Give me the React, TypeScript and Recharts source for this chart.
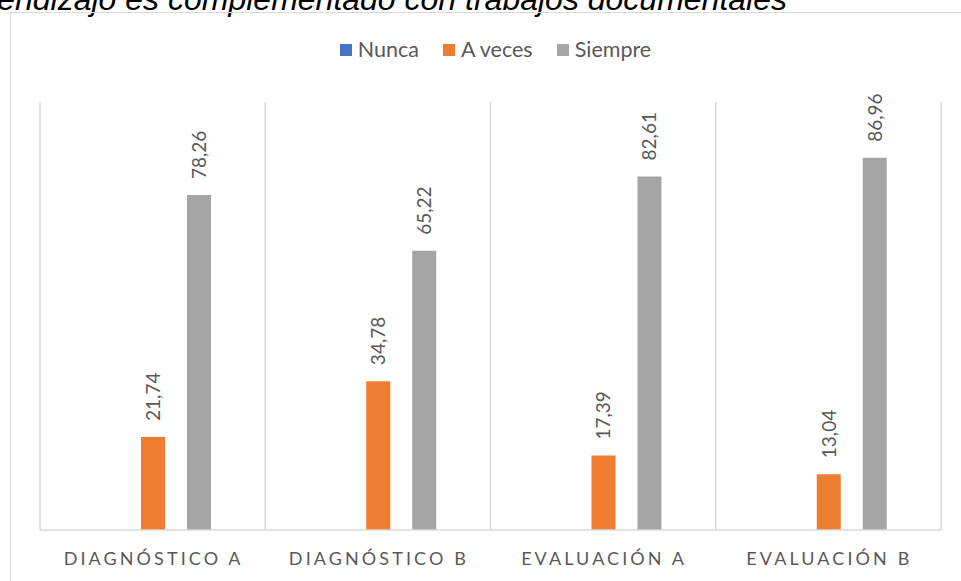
import { BarChart, Bar, XAxis, YAxis, CartesianGrid, Legend, LabelList } from 'recharts'

const categories = ['DIAGNÓSTICO A', 'DIAGNÓSTICO B', 'EVALUACIÓN A', 'EVALUACIÓN B']
const nunca = [0, 0, 0, 0]
const aVeces = [21.74, 34.78, 17.39, 13.04]
const siempre = [78.26, 65.22, 82.61, 86.96]

const seriesInfo = [
  { key: 'nunca', name: 'Nunca', color: '#4472C4' },
  { key: 'aVeces', name: 'A veces', color: '#ED7D31' },
  { key: 'siempre', name: 'Siempre', color: '#A5A5A5' },
]

const data = categories.map((c, i) => ({
  name: c,
  nunca: nunca[i],
  aVeces: aVeces[i],
  siempre: siempre[i],
}))

const FONT = 'Lato, "Open Sans", sans-serif'
const TEXT = '#595959'
const LINE = '#D9D9D9'

const fmt = (v: number) => v.toFixed(2).replace('.', ',')

function ValueLabel(props: any) {
  const { x, y, width, value } = props
  const cx = x + width / 2
  const ty = y - 16
  return (
    <text
      x={cx}
      y={ty}
      transform={`rotate(-90 ${cx} ${ty})`}
      dy="0.36em"
      textAnchor="start"
      fill={TEXT}
      fontSize={19}
      fontFamily={FONT}
    >
      {fmt(value)}
    </text>
  )
}

function CategoryTick(props: any) {
  const { x, y, payload } = props
  return (
    <text x={x + 1} y={y + 27} textAnchor="middle" fill={TEXT} fontSize={18} fontFamily={FONT} letterSpacing={3.1}>
      {payload.value}
    </text>
  )
}

function LegendContent() {
  return (
    <div style={{ display: 'flex', justifyContent: 'center', gap: 24, fontFamily: FONT, fontSize: 21.5, color: TEXT, paddingLeft: 30, lineHeight: '25px' }}>
      {seriesInfo.map((s) => (
        <div key={s.key} style={{ display: 'flex', alignItems: 'center', gap: 6 }}>
          <span style={{ width: 12, height: 12, background: s.color, display: 'inline-block' }} />
          <span>{s.name}</span>
        </div>
      ))}
    </div>
  )
}

export default function App() {
  return (
    <div style={{ position: 'fixed', left: 0, top: 0, width: 961, height: 581, background: '#fff', overflow: 'hidden' }}>
      <svg width={961} height={20} style={{ position: 'absolute', left: 0, top: 0 }}>
        <text
          x={787}
          y={10}
          textAnchor="end"
          fontSize={32}
          fontStyle="italic"
          fontFamily='"Liberation Sans", Arial, sans-serif'
          fill="#000"
        >
          endizajo es complementado con trabajos documentales
        </text>
      </svg>
      <div
        style={{
          position: 'absolute',
          left: 10,
          top: 12,
          width: 960,
          height: 580,
          borderLeft: `1px solid ${LINE}`,
          borderTop: `1px solid ${LINE}`,
        }}
      />
      <div style={{ position: 'absolute', left: 0, top: 0 }}>
        <BarChart
          width={961}
          height={581}
          data={data}
          margin={{ top: 77, right: 20, bottom: 21, left: 40 }}
          barSize={24}
          barGap={22}
        >
          <CartesianGrid
            horizontal={false}
            stroke={LINE}
            strokeWidth={1.5}
            verticalCoordinatesGenerator={({ offset }: any) =>
              [0, 1, 2, 3, 4].map((i) => offset.left + (i * offset.width) / 4)
            }
          />
          <XAxis
            dataKey="name"
            height={30}
            axisLine={{ stroke: LINE, strokeWidth: 1.5 }}
            tickLine={false}
            tick={<CategoryTick />}
            interval={0}
          />
          <YAxis hide domain={[0, 100]} />
          <Legend verticalAlign="top" height={25} content={<LegendContent />} wrapperStyle={{ top: 37, left: 0, width: 961 }} />
          {seriesInfo.map((s) => (
            <Bar key={s.key} dataKey={s.key} name={s.name} fill={s.color} isAnimationActive={false}>
              <LabelList dataKey={s.key} content={<ValueLabel />} />
            </Bar>
          ))}
        </BarChart>
      </div>
    </div>
  )
}
